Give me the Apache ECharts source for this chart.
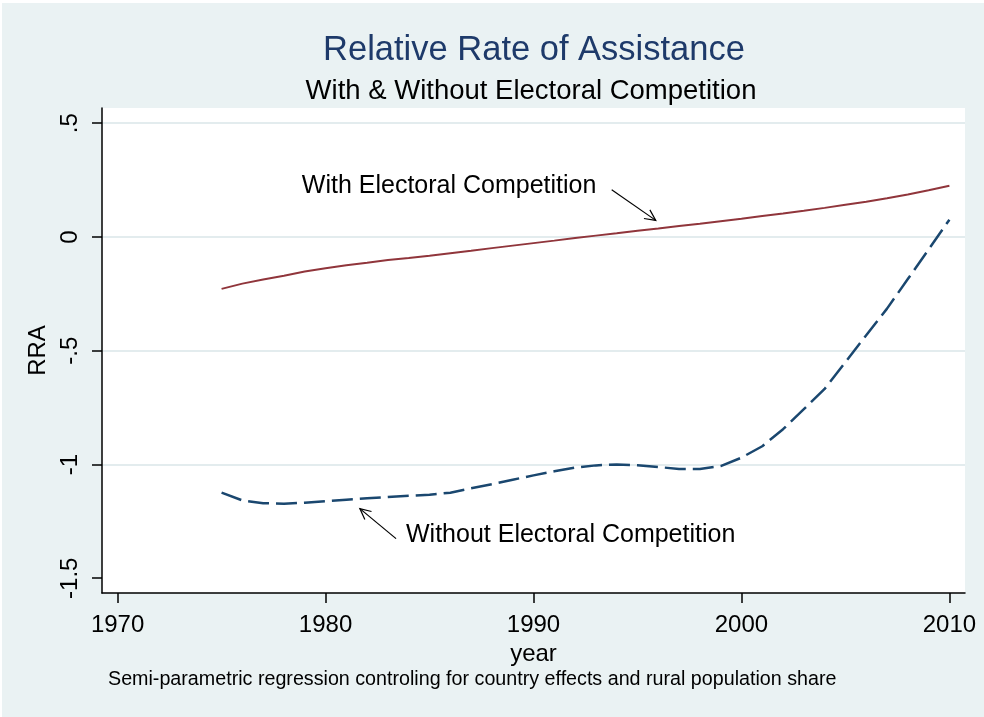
<!DOCTYPE html>
<html>
<head>
<meta charset="utf-8">
<script src="https://cdn.jsdelivr.net/npm/echarts@6/dist/echarts.min.js"></script>
<style>
  html, body { margin: 0; padding: 0; background: #ffffff; }
  #chart { width: 984px; height: 717px; }
</style>
</head>
<body>
<div id="chart"></div>
<script>
// Years covered by both fitted curves
const years = [1975, 1976, 1977, 1978, 1979, 1980, 1981, 1982, 1983, 1984,
               1985, 1986, 1987, 1988, 1989, 1990, 1991, 1992, 1993, 1994,
               1995, 1996, 1997, 1998, 1999, 2000, 2001, 2002, 2003, 2004,
               2005, 2006, 2007, 2008, 2009, 2010];

// Fitted RRA with electoral competition
const withCompetition = [-0.228, -0.205, -0.187, -0.170, -0.152, -0.137, -0.124, -0.113, -0.101, -0.092,
                         -0.082, -0.071, -0.061, -0.049, -0.038, -0.027, -0.016, -0.004, 0.006, 0.016,
                          0.027, 0.037, 0.048, 0.058, 0.069, 0.080, 0.092, 0.103, 0.115, 0.128,
                          0.142, 0.155, 0.170, 0.187, 0.205, 0.225];

// Fitted RRA without electoral competition
const withoutCompetition = [-1.124, -1.158, -1.170, -1.173, -1.168, -1.161, -1.155, -1.149, -1.143, -1.138,
                            -1.133, -1.124, -1.105, -1.087, -1.067, -1.048, -1.030, -1.014, -1.004, -1.000,
                            -1.003, -1.011, -1.020, -1.020, -1.007, -0.970, -0.920, -0.845, -0.757, -0.668,
                            -0.550, -0.432, -0.315, -0.185, -0.055, 0.076];

// Axis ticks and their labels
const xTicks = [1970, 1980, 1990, 2000, 2010];
const yTicks = [-1.5, -1, -0.5, 0, 0.5];
const yTickLabels = ['-1.5', '-1', '-.5', '0', '.5'];
const yGridLines = [-1, -0.5, 0, 0.5];

// Text annotations: label anchor (year, RRA) and arrow from -> to
const noteTexts = ['With Electoral Competition', 'Without Electoral Competition'];
const noteAnchors = [[1978.86, 0.223], [1983.87, -1.312]];
const arrowFrom = [[1993.76, 0.208], [1983.39, -1.326]];
const arrowTo = [[1995.88, 0.073], [1981.65, -1.194]];

const FONT = '"Liberation Sans", Arial, sans-serif';
const NAVY = '#1a476f';
const MAROON = '#90353b';

const chart = echarts.init(document.getElementById('chart'), null, { renderer: 'canvas' });

const pairs = (vals) => years.map((y, i) => [y, vals[i]]);

chart.setOption({
  backgroundColor: '#eaf2f3',
  animation: false,
  textStyle: { fontFamily: FONT },
  title: [
    {
      text: 'Relative Rate of Assistance',
      left: 529, top: 28, textAlign: 'center',
      textStyle: { fontFamily: FONT, fontSize: 34.5, fontWeight: 'normal', color: '#1e3a6a' }
    },
    {
      text: 'With & Without Electoral Competition',
      left: 526, top: 72, textAlign: 'center',
      textStyle: { fontFamily: FONT, fontSize: 27.5, fontWeight: 'normal', color: '#000' }
    },
    {
      text: 'Semi-parametric regression controling for country effects and rural population share',
      left: 108, top: 670, padding: 0,
      textStyle: { fontFamily: FONT, fontSize: 19.7, fontWeight: 'normal', color: '#000' }
    }
  ],
  grid: {
    left: 102, right: 19, top: 108, bottom: 124,
    show: true, backgroundColor: '#ffffff', borderWidth: 0
  },
  xAxis: {
    type: 'value',
    min: 1969.25, max: 2010.75,
    name: 'year',
    nameLocation: 'middle',
    nameGap: 43,
    nameTextStyle: { fontFamily: FONT, fontSize: 24, color: '#000' },
    axisLine: { show: true, onZero: false, lineStyle: { color: '#000', width: 1.5 } },
    axisTick: { show: true, length: 10, customValues: xTicks, lineStyle: { color: '#000', width: 1.5 } },
    axisLabel: {
      customValues: xTicks, fontFamily: FONT, fontSize: 24, color: '#000', margin: 20,
      formatter: (v) => String(v)
    },
    splitLine: { show: false }
  },
  yAxis: [
    {
      type: 'value',
      min: -1.565, max: 0.567,
      name: 'RRA',
      nameLocation: 'middle',
      nameGap: 50,
      nameTextStyle: { fontFamily: FONT, fontSize: 24, color: '#000' },
      axisLine: { show: true, onZero: false, lineStyle: { color: '#000', width: 1.5 } },
      axisTick: { show: true, length: 10, customValues: yTicks, lineStyle: { color: '#000', width: 1.5 } },
      axisLabel: {
        customValues: yTicks, rotate: 90, fontFamily: FONT, fontSize: 24, color: '#000', margin: 20,
        formatter: (v) => yTickLabels[yTicks.indexOf(v)]
      },
      splitLine: { show: false }
    },
    {
      type: 'value',
      min: -1.565, max: 0.567,
      position: 'right',
      axisLine: { show: false },
      axisTick: { show: false, customValues: yGridLines },
      axisLabel: { show: false, customValues: yGridLines },
      splitLine: { show: true, lineStyle: { color: '#e3ecee', width: 2 } }
    }
  ],
  series: [
    {
      name: 'With Electoral Competition',
      type: 'line',
      data: pairs(withCompetition),
      showSymbol: false,
      lineStyle: { color: MAROON, width: 2 },
      z: 3
    },
    {
      name: 'Without Electoral Competition',
      type: 'line',
      data: pairs(withoutCompetition),
      showSymbol: false,
      lineStyle: { color: NAVY, width: 2.5, type: [21, 7] },
      z: 3
    }
  ]
});

// Annotation labels and open-headed arrows placed in data coordinates
function drawNotes() {
  const els = [];
  noteTexts.forEach((txt, i) => {
    const p = chart.convertToPixel({ gridIndex: 0 }, noteAnchors[i]);
    els.push({
      type: 'text', x: p[0], y: p[1], z: 10,
      style: { text: txt, fontFamily: FONT, fontSize: 25, fill: '#000', textAlign: 'left', textVerticalAlign: 'middle' }
    });
    const a = chart.convertToPixel({ gridIndex: 0 }, arrowFrom[i]);
    const b = chart.convertToPixel({ gridIndex: 0 }, arrowTo[i]);
    const ang = Math.atan2(b[1] - a[1], b[0] - a[0]);
    const len = 12, spread = 0.45;
    const h1 = [b[0] - len * Math.cos(ang - spread), b[1] - len * Math.sin(ang - spread)];
    const h2 = [b[0] - len * Math.cos(ang + spread), b[1] - len * Math.sin(ang + spread)];
    els.push({
      type: 'polyline', z: 10,
      shape: { points: [a, b] },
      style: { stroke: '#000', lineWidth: 1.2, fill: null }
    });
    els.push({
      type: 'polyline', z: 10,
      shape: { points: [h1, b, h2] },
      style: { stroke: '#000', lineWidth: 1.2, fill: null }
    });
  });
  // thin white frame along the top and left edges
  els.push({ type: 'rect', shape: { x: 0, y: 0, width: 984, height: 3 }, style: { fill: '#fff' }, z: 20 });
  els.push({ type: 'rect', shape: { x: 0, y: 0, width: 2, height: 717 }, style: { fill: '#fff' }, z: 20 });
  chart.setOption({ graphic: { elements: els } });
}
drawNotes();
</script>
</body>
</html>
